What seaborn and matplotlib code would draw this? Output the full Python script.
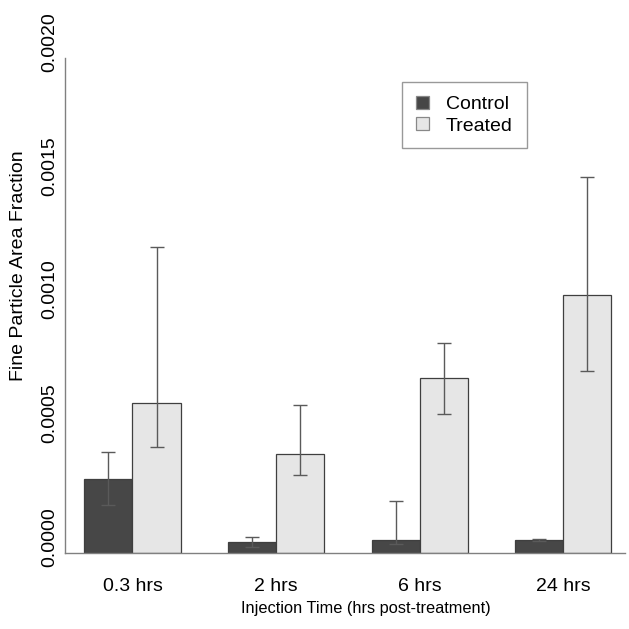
import matplotlib
matplotlib.use("Agg")
import matplotlib.pyplot as plt
import matplotlib.transforms as mtransforms
import seaborn as sns
import pandas as pd
import numpy as np

categories = ["0.3 hrs", "2 hrs", "6 hrs", "24 hrs"]
groups = ["Control", "Treated"]
control_mean = [0.000299, 0.0000444, 0.0000525, 0.0000525]
control_upper = [0.000408, 0.0000646, 0.000210, 0.0000560]
control_lower = [0.000194, 0.0000242, 0.0000364, 0.0000490]
treated_mean = [0.000606, 0.000400, 0.000707, 0.001042]
treated_upper = [0.001236, 0.000598, 0.000848, 0.001519]
treated_lower = [0.000428, 0.000315, 0.000562, 0.000735]
yticks = [0.0, 0.0005, 0.0010, 0.0015, 0.0020]
ytick_labels = ["0.0000", "0.0005", "0.0010", "0.0015", "0.0020"]

df = pd.DataFrame({
    "time": categories * 2,
    "group": [groups[0]] * 4 + [groups[1]] * 4,
    "value": control_mean + treated_mean,
})

sns.set_style("white")
plt.rcParams["font.family"] = ["Liberation Sans", "DejaVu Sans"]
plt.rcParams["text.color"] = "black"
plt.rcParams["axes.labelcolor"] = "black"
plt.rcParams["xtick.color"] = "black"
plt.rcParams["ytick.color"] = "black"

fig = plt.figure(figsize=(6.29, 6.29), dpi=100)
ax = fig.add_axes([65 / 629, 76 / 629, 560 / 629, 495 / 629])

palette = {"Control": "#474747", "Treated": "#e6e6e6"}
sns.barplot(data=df, x="time", y="value", hue="group", order=categories,
            hue_order=groups, palette=palette, width=0.67, gap=0,
            edgecolor="#3f3f3f", linewidth=0.9, saturation=1, ax=ax,
            errorbar=None)

# error bars
patches = list(ax.patches)[:8]
means = control_mean + treated_mean
uppers = control_upper + treated_upper
lowers = control_lower + treated_lower
for p, m, u, l in zip(patches, means, uppers, lowers):
    xc = p.get_x() + p.get_width() / 2
    ax.errorbar([xc], [m], yerr=[[m - l], [u - m]], fmt="none",
                ecolor="#5a5a5a", elinewidth=1.0, capsize=5.2, capthick=1.0)

ax.set_xlim(-0.47, 3.43)
ax.set_ylim(0, 0.0020)
ax.set_yticks(yticks)
ax.set_yticklabels([])
ax.tick_params(axis="y", direction="out", length=5, width=0.8, color="#808080")
ax.tick_params(axis="x", length=0, pad=18, labelsize=14)

# y tick labels, rotated, decimal point near the tick
ytrans = mtransforms.blended_transform_factory(ax.transAxes, ax.transData)
offset = mtransforms.ScaledTranslation(-7 / 100, 16 / 100, fig.dpi_scale_trans)
for yv, lab in zip(yticks, ytick_labels):
    ax.text(0, yv, lab, transform=ytrans + offset, rotation=90,
            ha="right", va="center", fontsize=14, color="black", clip_on=False)

for s in ["top", "right"]:
    ax.spines[s].set_visible(False)
for s in ["left", "bottom"]:
    ax.spines[s].set_color("#808080")
    ax.spines[s].set_linewidth(1.0)

ax.set_ylabel("Fine Particle Area Fraction", fontsize=14)
ax.yaxis.set_label_coords(-0.068, 0.58)
ax.set_xlabel("Injection Time (hrs post-treatment)", fontsize=11.8,
              family=["Liberation Sans Narrow", "Liberation Sans", "DejaVu Sans"])
ax.xaxis.set_label_coords(0.5375, -0.096)

leg = ax.legend(loc="upper left", bbox_to_anchor=(0.602, 0.9515),
                frameon=True, fancybox=False, fontsize=14, handlelength=0.68,
                handleheight=0.65, borderpad=0.7, handletextpad=0.88,
                labelspacing=0.22, borderaxespad=0)
leg.get_frame().set_edgecolor("#808080")
leg.get_frame().set_linewidth(1.0)
for h in leg.legend_handles:
    h.set_edgecolor("#888888")

fig.savefig("out.png", dpi=100)
